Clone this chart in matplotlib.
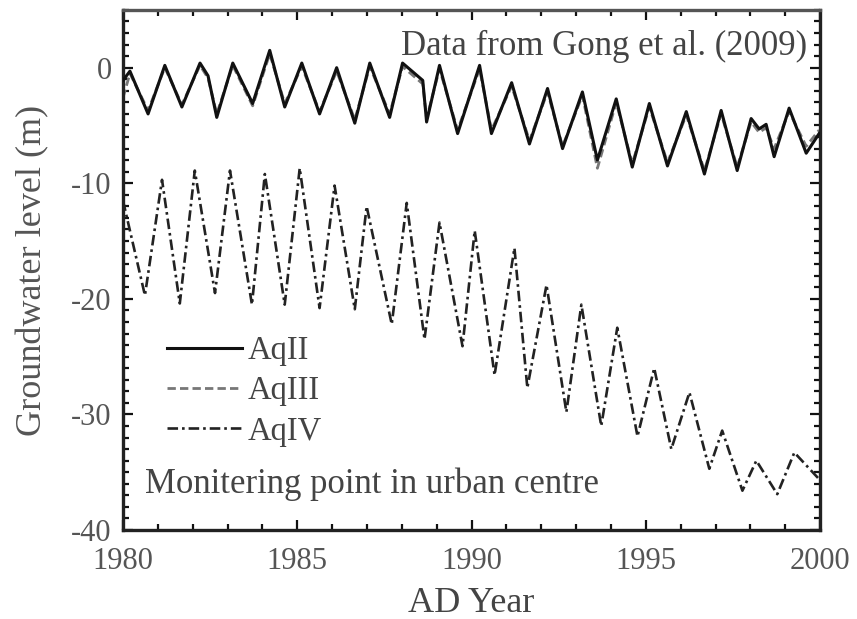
import matplotlib
matplotlib.use("Agg")
import matplotlib.pyplot as plt
from matplotlib.ticker import MultipleLocator

plt.rcParams['font.family'] = ['Liberation Serif', 'DejaVu Serif']
plt.rcParams['axes.unicode_minus'] = False

# groundwater levels (m)
aq2_year = [1980.0, 1980.2, 1980.72, 1981.2, 1981.69, 1982.21, 1982.44, 1982.69,
            1983.15, 1983.72, 1984.21, 1984.64, 1985.13, 1985.64, 1986.13, 1986.65,
            1987.08, 1987.65, 1988.02, 1988.6, 1988.71, 1989.08, 1989.6, 1990.23,
            1990.57, 1991.15, 1991.66, 1992.18, 1992.61, 1993.18, 1993.61, 1994.15,
            1994.61, 1995.1, 1995.62, 1996.16, 1996.68, 1997.16, 1997.62, 1998.02,
            1998.25, 1998.45, 1998.68, 1999.11, 1999.6, 1999.97]
aq2_level = [-1.1, -0.3, -4.0, 0.2, -3.4, 0.4, -0.7, -4.3,
             0.4, -3.1, 1.5, -3.4, 0.4, -4.0, 0.0, -4.8,
             0.4, -4.3, 0.4, -1.1, -4.7, 0.2, -5.7, 0.2,
             -5.7, -1.3, -6.6, -1.8, -7.0, -2.1, -8.0, -2.7,
             -8.6, -3.1, -8.5, -3.8, -9.2, -3.7, -8.9, -4.4,
             -5.3, -4.9, -7.7, -3.5, -7.4, -5.7]
aq3_level = [-2.6, -0.5, -3.7, 0.0, -3.2, 0.2, -0.9, -4.0,
             0.2, -3.3, 1.2, -3.1, 0.1, -3.8, -0.3, -4.5,
             0.1, -4.0, 0.1, -1.4, -4.4, -0.1, -5.4, -0.1,
             -5.4, -1.6, -6.3, -2.1, -6.8, -2.4, -8.7, -3.0,
             -8.3, -3.4, -8.2, -4.1, -8.9, -4.0, -8.6, -4.7,
             -5.6, -5.2, -7.0, -3.8, -6.8, -5.4]

aq4_year = [1980.0, 1980.63, 1981.12, 1981.63, 1982.06, 1982.64, 1983.07, 1983.70,
            1984.07, 1984.64, 1985.07, 1985.64, 1986.07, 1986.65, 1986.99, 1987.71,
            1988.14, 1988.65, 1989.08, 1989.74, 1990.09, 1990.66, 1991.23, 1991.60,
            1992.15, 1992.72, 1993.15, 1993.72, 1994.18, 1994.76, 1995.24, 1995.73,
            1996.25, 1996.82, 1997.19, 1997.77, 1998.17, 1998.77, 1999.26, 1999.97]
aq4_level = [-11.5, -19.7, -9.7, -20.4, -8.9, -19.5, -8.9, -20.5,
             -9.2, -20.5, -8.7, -20.8, -10.2, -20.9, -12.0, -22.2,
             -11.7, -23.5, -13.4, -24.1, -14.1, -26.6, -15.6, -27.7,
             -18.8, -29.8, -20.5, -31.0, -22.5, -31.9, -26.0, -33.0,
             -28.1, -34.7, -31.4, -36.6, -34.0, -36.9, -33.3, -35.6]

fig = plt.figure(figsize=(8.57, 6.19), dpi=100)
ax = fig.add_axes([0.1435, 0.1438, 0.8135, 0.8402])

ax.plot(aq2_year, aq3_level, color='#777777', lw=2.0, ls=(0, (3, 1.5)), label='AqIII', zorder=2)
ax.plot(aq2_year, aq2_level, color='#111111', lw=2.2, label='AqII', zorder=3)
ax.plot(aq4_year, aq4_level, color='#222222', lw=1.9, ls=(0, (4, 1.5, 1, 1.5)), label='AqIV')

ax.set_xlim(1980, 2000)
ax.set_ylim(-40, 5)
ax.set_xticks([1980, 1985, 1990, 1995, 2000])
ax.set_yticks([0, -10, -20, -30, -40])
ax.xaxis.set_minor_locator(MultipleLocator(1))
ax.yaxis.set_minor_locator(MultipleLocator(1))
ax.tick_params(which='both', direction='in', top=True, right=True,
               labelsize=22, labelcolor='#555555', color='#111111', width=1.6)
ax.tick_params(which='major', length=7)
ax.tick_params(which='minor', length=4)
ax.tick_params(axis='y', which='major', pad=8)
ax.tick_params(axis='x', which='major', pad=12)
for s in ax.spines.values():
    s.set_linewidth(2.4)
    s.set_color('#222222')
ax.spines['top'].set_color('#555555')

ax.set_xlabel('AD Year', fontsize=26, color='#444444', labelpad=8)
ax.set_ylabel('Groundwater level (m)', fontsize=26, color='#555555', labelpad=16)

handles, labels = ax.get_legend_handles_labels()
order = [1, 0, 2]
ax.legend([handles[i] for i in order], [labels[i] for i in order],
          loc='upper left', bbox_to_anchor=(0.04, 0.405), frameon=False,
          borderpad=0, fontsize=23.5, handlelength=2.3, handletextpad=0.15,
          labelspacing=0.3, labelcolor='#444444')

ax.text(0.981, 0.929, 'Data from Gong et al. (2009)', transform=ax.transAxes,
        ha='right', va='center', fontsize=25, color='#444444')
ax.text(0.0316, 0.087, 'Monitering point in urban centre', transform=ax.transAxes,
        ha='left', va='center', fontsize=25, color='#444444')

fig.savefig('out.png', dpi=100)
